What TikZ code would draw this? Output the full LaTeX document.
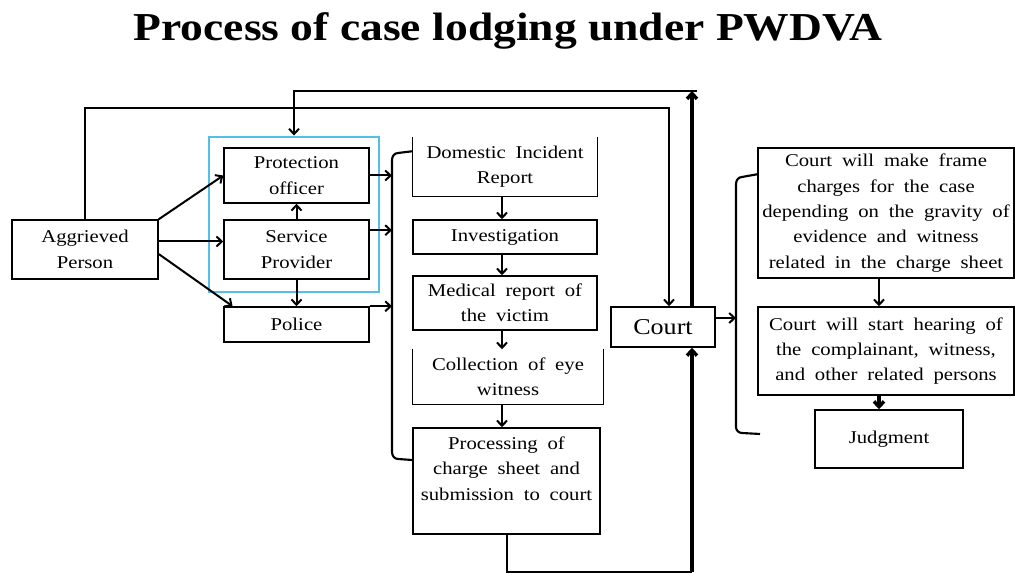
\documentclass[tikz,border=0pt]{standalone}
\usepackage{fontspec}
\setmainfont{Liberation Serif}[FakeStretch=1.15, WordSpace=1.9]
\newfontfamily\headfont{Liberation Serif}[FakeStretch=1.15]
\usetikzlibrary{arrows.meta}
\definecolor{groupblue}{RGB}{84,192,232}
\begin{document}
\begin{tikzpicture}[x=0.75pt,y=-0.75pt,
  box/.style={draw, line width=1.1pt, inner sep=0pt, align=center,
              font=\fontsize{13.5}{19}\selectfont},
  openbox/.style={box, draw=none},
  conn/.style={line width=1.5pt, -{Straight Barb[length=4pt,width=7.5pt]}},
  heavy/.style={conn, line width=2.6pt},
  plain/.style={line width=1.5pt},
  brace/.style={line width=1.6pt, line join=round}]
\useasboundingbox (0,0) rectangle (1015,573);

% heading
\node[font=\headfont\fontsize{29.7}{34}\selectfont\bfseries, anchor=base] (title) at (508,41)
  {Process of case lodging under PWDVA};

% first column: complainant and the offices she can approach
\node[box, minimum width=109.5pt, minimum height=44.25pt] (agg) at (85,249.5) {Aggrieved\\Person};
\node[box, minimum width=108.75pt, minimum height=41.25pt] (po) at (296.5,175.5) {Protection\\officer};
\node[box, minimum width=108.75pt, minimum height=44.25pt] (sp) at (296.5,249.5) {Service\\Provider};
\node[box, minimum width=108.75pt, minimum height=26.25pt] (police) at (296.5,324.5) {Police};
\node[draw=groupblue, line width=2.2pt, inner sep=0pt, minimum width=127.5pt, minimum height=116.25pt] (grp) at (294,214.5) {};

% second column: police procedure
\node[openbox, minimum width=138pt, minimum height=43.5pt] (dir) at (505,167) {Domestic Incident\\Report};
\draw[line width=1.1pt] (dir.north west) -- (dir.south west) -- (dir.south east) -- (dir.north east);
\node[box, minimum width=138pt, minimum height=25.5pt] (inv) at (505,237) {Investigation};
\node[box, minimum width=138pt, minimum height=40.5pt] (med) at (505,303) {Medical report of\\the victim};
\node[openbox, minimum width=142.5pt, minimum height=40.5pt] (col) at (508,377) {Collection of eye\\witness};
\draw[line width=1.1pt] (col.north west) -- (col.south west) -- (col.south east) -- (col.north east);
\node[box, minimum width=140.25pt, minimum height=79.5pt] (proc) at (506.5,481) {Processing of\\charge sheet and\\submission to court\\\mbox{}};

% court and its stages
\node[box, font=\fontsize{17}{20}\selectfont, minimum width=78pt, minimum height=30pt] (court) at (663,327) {Court};
\node[box, minimum width=192pt, minimum height=97.5pt] (frame) at (886,213) {Court will make frame\\charges for the case\\depending on the gravity of\\evidence and witness\\related in the charge sheet};
\node[box, minimum width=192pt, minimum height=66pt] (hear) at (886,351) {Court will start hearing of\\the complainant, witness,\\and other related persons};
\node[box, minimum width=111pt, minimum height=43.5pt] (judg) at (889,439) {Judgment};

% helper coordinates
\coordinate (bl) at (392,0);
\coordinate (br) at (736,0);
\coordinate (colx) at (502,0);
\coordinate (rx) at (879,0);
\coordinate (yA) at (0,108);
\coordinate (yB) at (0,91);
\coordinate (low) at (0,572);
\coordinate (rt) at (697,91);
\coordinate (cin) at ([xshift=4.5pt]court.north);
\coordinate (cout) at ([xshift=21.75pt]court.north);
\coordinate (ce) at ([yshift=6.75pt]court.east);
\coordinate (spo) at ([yshift=14.5pt]sp.east);

% from the aggrieved person
\draw[conn] (agg.north east) -- (po.west);
\draw[conn] ([yshift=6pt]agg.east) -- ([yshift=6pt]sp.west);
\draw[conn] ([yshift=-3.4pt]agg.east) -- ([xshift=7pt]police.north west);
\draw[conn] (sp.north) -- (po.south);
\draw[conn] (sp.south) -- (police.north);
\draw[conn] (agg.north) |- (yA -| cin) -- (cin);

% into the police procedure
\draw[conn] (po.east) -- (po.east -| bl);
\draw[conn] (spo) -- (spo -| bl);
\draw[conn] (police.north east) -- (police.north east -| bl);
\draw[brace] ([yshift=-10.5pt]dir.north west) -- (398,153) to[out=180,in=90] (392,160)
  -- (392,452) to[out=-90,in=180] (398,459) -- ([yshift=15.75pt]proc.west);

\draw[conn] (dir.south -| colx) -- (inv.north -| colx);
\draw[conn] (inv.south -| colx) -- (med.north -| colx);
\draw[conn] (med.south -| colx) -- (col.north -| colx);
\draw[conn] (col.south -| colx) -- (proc.north -| colx);

% charge sheet to court, court back to the protection officer
\draw[plain] (proc.south) |- (low -| cout);
\draw[heavy] (low -| cout) -- (court.south -| cout);
\draw[heavy] (cout) -- (cout |- yB);
\draw[conn] (rt) -| (grp.north);

% court proceedings
\draw[conn] (ce) -- (ce -| br);
\draw[brace] ([yshift=-20.25pt]frame.north west) -- (742,177) to[out=180,in=90] (736,184)
  -- (736,427) to[out=-90,in=180] (742,433) -- (760,434);
\draw[conn] (frame.south -| rx) -- (hear.north -| rx);
\draw[heavy] (hear.south -| rx) -- (judg.north -| rx);
\end{tikzpicture}
\end{document}
